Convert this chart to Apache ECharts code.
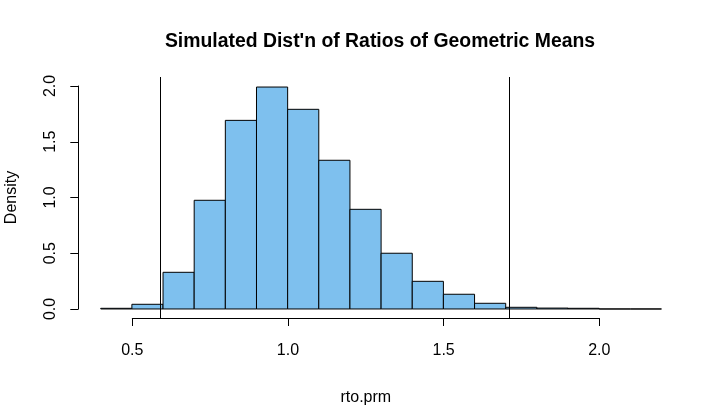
<!DOCTYPE html>
<html>
<head>
<meta charset="utf-8">
<script src="https://cdn.jsdelivr.net/npm/echarts@6/dist/echarts.min.js"></script>
<style>
html,body{margin:0;padding:0;background:#fff;}
#chart{width:725px;height:416px;}
</style>
</head>
<body>
<div id="chart"></div>
<script>
// Histogram bin edges (lower, upper) and densities
var binLower = [0.4, 0.5, 0.6, 0.7, 0.8, 0.9, 1.0, 1.1, 1.2, 1.3, 1.4, 1.5, 1.6, 1.7, 1.8, 1.9, 2.0, 2.1];
var binUpper = [0.5, 0.6, 0.7, 0.8, 0.9, 1.0, 1.1, 1.2, 1.3, 1.4, 1.5, 1.6, 1.7, 1.8, 1.9, 2.0, 2.1, 2.2];
var density  = [0.006, 0.042, 0.329, 0.975, 1.692, 1.991, 1.791, 1.334, 0.894, 0.500, 0.248, 0.132, 0.051, 0.015, 0.008, 0.006, 0, 0];
// Vertical reference lines
var vLines = [0.587, 1.705];
// Tick labels
var xTicks = [0.5, 1.0, 1.5, 2.0];
var xTickLabels = ['0.5', '1.0', '1.5', '2.0'];
var yTicks = [0.0, 0.5, 1.0, 1.5, 2.0];
var yTickLabels = ['0.0', '0.5', '1.0', '1.5', '2.0'];
var titleText = "Simulated Dist'n of Ratios of Geometric Means";
var xName = 'rto.prm';
var yName = 'Density';

var histData = binLower.map(function (lo, i) { return [lo, binUpper[i], density[i]]; });

function labelFor(ticks, labels) {
  return function (v) {
    for (var i = 0; i < ticks.length; i++) {
      if (Math.abs(ticks[i] - v) < 1e-9) return labels[i];
    }
    return '';
  };
}

var FONT = 'Liberation Sans, Arial, sans-serif';
var chart = echarts.init(document.getElementById('chart'));
chart.setOption({
  animation: false,
  backgroundColor: '#ffffff',
  graphic: [{
    type: 'text',
    x: 380, y: 42,
    style: {
      text: titleText,
      fontFamily: FONT,
      fontWeight: 'bold',
      fontSize: 19.4,
      fill: '#000',
      textAlign: 'center',
      textVerticalAlign: 'middle'
    }
  }],
  grid: [
    { left: 78.3, right: 41.1, top: 77, bottom: 98, outerBoundsMode: 'none' },
    { left: 132.3, right: 125.7, top: 86, bottom: 107, outerBoundsMode: 'none' }
  ],
  xAxis: [
    { gridIndex: 0, type: 'value', min: 0.328, max: 2.272, show: false },
    {
      gridIndex: 1, type: 'value', min: 0.5, max: 2.0, interval: 0.5, offset: 9,
      position: 'bottom',
      axisLine: { show: true, onZero: false, lineStyle: { color: '#000', width: 1 } },
      axisTick: { show: true, length: 8, lineStyle: { color: '#000', width: 1 } },
      axisLabel: { show: true, margin: 25, color: '#000', fontSize: 16, fontFamily: FONT,
        hideOverlap: false, formatter: labelFor(xTicks, xTickLabels) },
      splitLine: { show: false },
      name: xName, nameLocation: 'middle', nameGap: 72,
      nameTextStyle: { color: '#000', fontSize: 16, fontFamily: FONT }
    }
  ],
  yAxis: [
    { gridIndex: 0, type: 'value', min: -0.081, max: 2.081, show: false },
    {
      gridIndex: 1, type: 'value', min: 0, max: 2.0, interval: 0.5, offset: 54,
      position: 'left',
      axisLine: { show: true, onZero: false, lineStyle: { color: '#000', width: 1 } },
      axisTick: { show: true, length: 8, lineStyle: { color: '#000', width: 1 } },
      axisLabel: { show: true, rotate: 90, margin: 20, color: '#000', fontSize: 16, fontFamily: FONT,
        formatter: labelFor(yTicks, yTickLabels) },
      splitLine: { show: false },
      name: yName, nameLocation: 'middle', nameGap: 59, nameRotate: 90,
      nameTextStyle: { color: '#000', fontSize: 16, fontFamily: FONT }
    }
  ],
  series: [
    {
      type: 'custom',
      xAxisIndex: 0, yAxisIndex: 0,
      data: histData,
      renderItem: function (params, api) {
        var p0 = api.coord([api.value(0), 0]);
        var p1 = api.coord([api.value(1), api.value(2)]);
        return {
          type: 'rect',
          shape: { x: p0[0], y: p1[1], width: p1[0] - p0[0], height: p0[1] - p1[1] },
          style: { fill: '#7EC0EE', stroke: '#000', lineWidth: 1 }
        };
      },
      markLine: {
        symbol: ['none', 'none'],
        silent: true,
        label: { show: false },
        lineStyle: { color: '#000', width: 1, type: 'solid' },
        data: vLines.map(function (v) { return { xAxis: v }; })
      }
    }
  ]
});
</script>
</body>
</html>
